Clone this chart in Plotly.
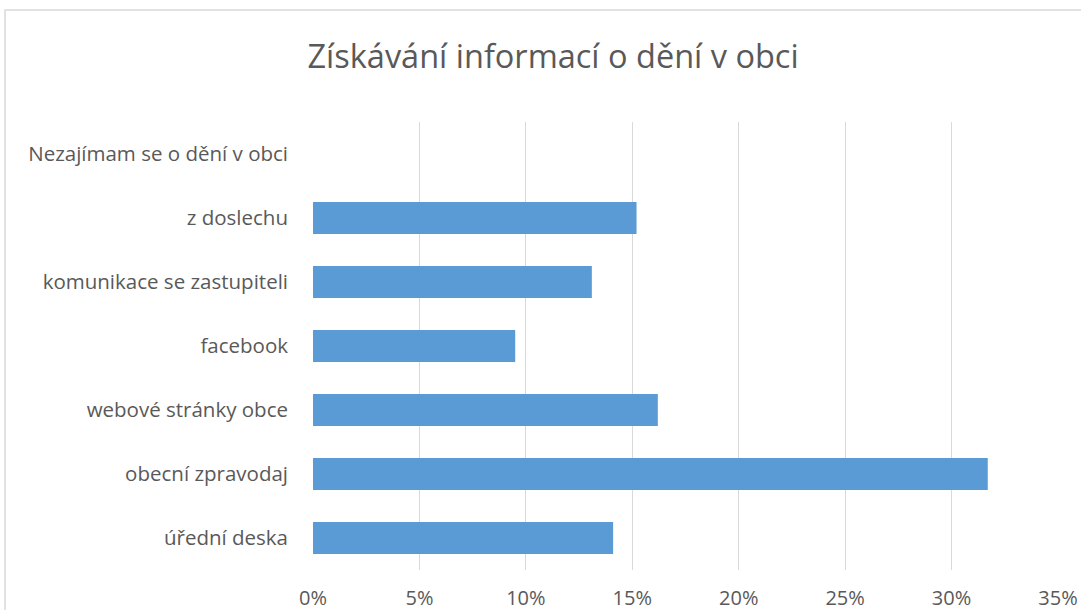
"""Horizontal bar chart: Získávání informací o dění v obci."""

import plotly.graph_objects as go

# categories listed bottom to top, as plotted
categories = [
    "úřední deska",
    "obecní zpravodaj",
    "webové stránky obce",
    "facebook",
    "komunikace se zastupiteli",
    "z doslechu",
    "Nezajímam se o dění v obci",
]
shares = [0.141, 0.317, 0.162, 0.095, 0.131, 0.152, 0.0]

x_ticks = [0, 0.05, 0.10, 0.15, 0.20, 0.25, 0.30, 0.35]

TEXT = "#595959"
GRID = "#d9d9d9"
BAR = "#5b9bd5"
FONT = "Open Sans"

fig = go.Figure(
    go.Bar(
        x=shares,
        y=categories,
        orientation="h",
        marker=dict(color=BAR, line=dict(width=0)),
        hovertemplate="%{y}: %{x:.1%}<extra></extra>",
    )
)

fig.update_layout(
    width=1081,
    height=610,
    paper_bgcolor="white",
    plot_bgcolor="white",
    margin=dict(l=313, r=23, t=122, b=40),
    bargap=0.5,
    showlegend=False,
    title=dict(
        text="Získávání informací o dění v obci",
        x=0.5116,
        xanchor="center",
        y=0.907,
        yanchor="middle",
        font=dict(family=FONT, size=32.5, color=TEXT),
    ),
    font=dict(family=FONT, size=20, color=TEXT),
    xaxis=dict(
        range=[0, 0.35],
        tickvals=x_ticks,
        tickformat=".0%",
        showgrid=True,
        gridcolor=GRID,
        gridwidth=1,
        zeroline=False,
        showline=False,
        ticks="",
        ticklabelstandoff=14,
        automargin=False,
        fixedrange=True,
    ),
    yaxis=dict(
        categoryorder="array",
        categoryarray=categories,
        showgrid=False,
        zeroline=False,
        showline=False,
        ticks="",
        tickfont=dict(size=20.5),
        ticklabelstandoff=24,
        automargin=False,
        fixedrange=True,
    ),
    shapes=[
        # light chart-area border as in the spreadsheet export
        dict(
            type="rect", xref="paper", yref="paper",
            x0=-0.4134, x1=1.2, y0=-0.3, y1=1.25,
            line=dict(color=GRID, width=1.5), fillcolor="rgba(0,0,0,0)",
            layer="below",
        )
    ],
)

# drop the default body margin so the figure sits flush in the window
fig.write_html(
    "out.html",
    config={"displayModeBar": False},
    post_script="document.body.style.margin='0';document.body.style.overflow='hidden';",
)
